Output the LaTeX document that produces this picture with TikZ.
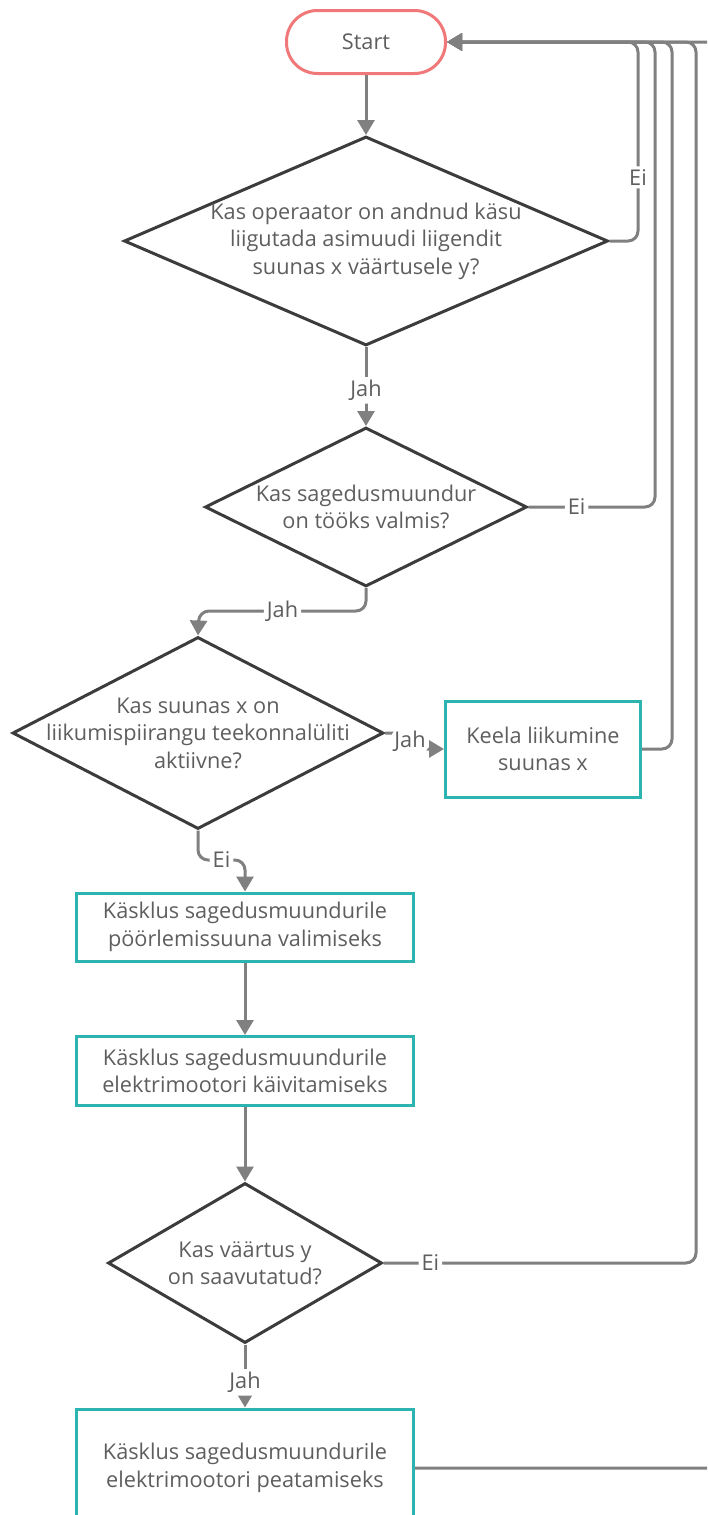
\documentclass[tikz,border=0pt]{standalone}
\usepackage{fontspec}
\setmainfont{Open Sans}
\usetikzlibrary{shapes.geometric,arrows.meta}
\definecolor{txtc}{HTML}{5E5E5E}
\definecolor{linec}{HTML}{808080}
\definecolor{edgec}{HTML}{3C3C3C}
\definecolor{boxc}{HTML}{2DB3B0}
\definecolor{startc}{HTML}{F07878}

\begin{document}
\begin{tikzpicture}[x=1pt,y=-1pt,
  every node/.style={font=\fontsize{21.7}{27.5}\selectfont,text=txtc},
  terminal/.style={rectangle,draw=startc,line width=3pt,rounded corners=31pt,minimum width=159pt,minimum height=63pt},
  decision/.style={diamond,draw=edgec,line width=3pt,inner sep=0pt},
  process/.style={rectangle,draw=boxc,line width=3pt,align=center},
  link/.style={draw=linec,line width=3pt,rounded corners=10pt,-{Triangle[length=15pt,width=17pt]}},
  lbl/.style={fill=white,inner sep=3pt}]
\useasboundingbox (0,0) rectangle (707,1515);
\clip (0,0) rectangle (707,1515);

\node [terminal] (start) at (366,42) {Start};
\node [decision,minimum width=484pt,minimum height=209pt,
  label={[align=center]center:{Kas operaator on andnud käsu\\liigutada asimuudi liigendit\\suunas x väärtusele y?}}] (d1) at (366,241) {};
\node [decision,minimum width=322pt,minimum height=159pt,
  label={[align=center]center:{Kas sagedusmuundur\\on tööks valmis?}}] (d2) at (366,507) {};
\node [decision,minimum width=371pt,minimum height=192pt,
  label={[align=center]center:{Kas suunas x on\\liikumispiirangu teekonnalüliti\\aktiivne?}}] (d3) at (198,733) {};
\node [process,minimum width=195pt,minimum height=96pt] (keela) at (543,749) {Keela liikumine\\suunas x};
\node [process,minimum width=337pt,minimum height=68pt] (suund) at (245,927) {Käsklus sagedusmuundurile\\pöörlemissuuna valimiseks};
\node [process,minimum width=337pt,minimum height=69pt] (kaivita) at (245,1071) {Käsklus sagedusmuundurile\\elektrimootori käivitamiseks};
\node [decision,minimum width=274pt,minimum height=160pt,
  label={[align=center]center:{Kas väärtus y\\on saavutatud?}}] (d4) at (245,1263) {};
\node [process,minimum width=337pt,minimum height=118pt] (peata) at (245,1468) {Käsklus sagedusmuundurile\\elektrimootori peatamiseks};

\draw [link] (start) -- (d1);
\draw [link] (d1) -- node[lbl,pos=.55]{Jah} (d2);
\draw [link] (d2.south) -- (366,611) -- node[lbl]{Jah} (199,611) -- (d3.north);
\draw [link] (d3.east) -- (410,733) -- node[lbl]{Jah} (410,749) -- (keela.west);
\draw [link] (d3.south) -- (198,860) -- node[lbl]{Ei} (245,860) -- (suund.north);
\draw [link] (suund) -- (kaivita);
\draw [link] (kaivita) -- (d4);
\draw [link] (d4) -- node[lbl,pos=.6]{Jah} (peata);

\draw [link] (d1.east) -- (638,241) -- node[lbl,pos=.32]{Ei} (638,42) -- (start.east);
\draw [link] (d2.east) -- node[lbl,pos=.38]{Ei} (655,507) -- (655,42) -- (start.east);
\draw [link] (keela.east) -- (672,749) -- (672,42) -- (start.east);
\draw [link] (d4.east) -- node[lbl,pos=.15]{Ei} (696,1263) -- (696,42) -- (start.east);
\draw [link] (peata.east) -- (720,1468) -- (720,42) -- (start.east);
\end{tikzpicture}
\end{document}
